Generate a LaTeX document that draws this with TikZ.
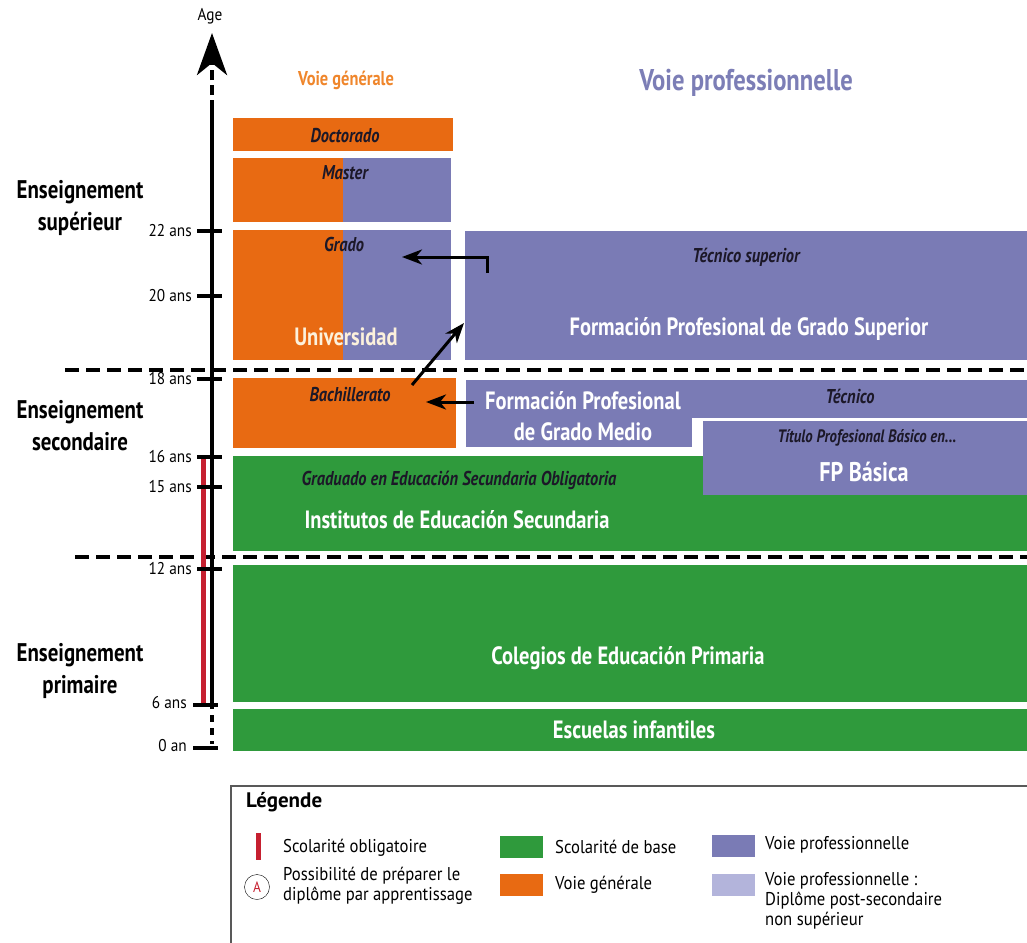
\documentclass[tikz,border=0pt]{standalone}
\usepackage{fontspec}
\setmainfont{PT Sans}
\newfontfamily\narrowfont[FakeStretch=0.9]{PT Sans}
\newfontfamily\condfont[FakeStretch=0.82]{PT Sans}
\usetikzlibrary{arrows.meta,positioning}

\definecolor{voieG}{HTML}{E86A12}
\definecolor{voieP}{HTML}{7A7BB5}
\definecolor{voiePL}{HTML}{B3B4DB}
\definecolor{base}{HTML}{2F9A3C}
\definecolor{oblig}{HTML}{C62030}
\definecolor{labeldark}{HTML}{1C1828}
\definecolor{cream}{HTML}{FCF1DC}
\definecolor{headG}{HTML}{EF862C}
\definecolor{headP}{HTML}{7C7EB6}

\tikzstyle{orangebox} = [rectangle, anchor=north west, inner sep=0pt, outer sep=0pt, fill=voieG]
\tikzstyle{purplebox} = [rectangle, anchor=north west, inner sep=0pt, outer sep=0pt, fill=voieP]
\tikzstyle{greenbox} = [rectangle, anchor=north west, inner sep=0pt, outer sep=0pt, fill=base]
\tikzstyle{boxtitle} = [inner sep=0pt, text=labeldark, font=\condfont\bfseries\itshape\fontsize{20}{22}\selectfont]
\tikzstyle{boxname} = [inner sep=0pt, text=white, align=center, font=\condfont\bfseries\fontsize{25}{31}\selectfont]
\tikzstyle{stage} = [inner sep=0pt, align=center, font=\condfont\bfseries\fontsize{25.5}{32}\selectfont]
\tikzstyle{age} = [inner sep=0pt, anchor=east, font=\narrowfont\fontsize{17}{19}\selectfont]
\tikzstyle{tickline} = [line width=4pt]
\tikzstyle{axisline} = [line width=4.5pt]
\tikzstyle{separator} = [line width=4pt, dash pattern=on 14pt off 7pt]
\tikzstyle{arrow} = [line width=3pt, -{Stealth[length=20pt,width=15pt,inset=6pt]}]
\tikzstyle{swatch} = [rectangle, anchor=north west, inner sep=0pt, minimum width=43pt, minimum height=22pt]
\tikzstyle{legendtext} = [inner sep=0pt, anchor=west, align=left, font=\narrowfont\fontsize{18.5}{20}\selectfont]

\begin{document}
\begin{tikzpicture}[x=1pt, y=-1pt]
        \useasboundingbox (0,0) rectangle (1027,942);

        % headers
        \node (Voie generale) [inner sep=0pt, text=headG, font=\condfont\bfseries\fontsize{20}{22}\selectfont] at (346,80) {Voie générale};
        \node (Voie pro) [inner sep=0pt, text=headP, font=\condfont\bfseries\fontsize{30}{32}\selectfont] at (746,83) {Voie professionnelle};

        % boxes
        \node (Doctorado) [orangebox, minimum width=220pt, minimum height=33pt] at (233,118) {};
        \node (Master G) [orangebox, minimum width=110pt, minimum height=64pt] at (233,158) {};
        \node (Master P) [purplebox, minimum width=108pt, minimum height=64pt] at (343,158) {};
        \node (Grado G) [orangebox, minimum width=110pt, minimum height=130pt] at (233,230) {};
        \node (Grado P) [purplebox, minimum width=108pt, minimum height=130pt] at (343,230) {};
        \node (Grado Superior) [purplebox, minimum width=562pt, minimum height=129pt] at (465,231) {};
        \node (Bachillerato) [orangebox, minimum width=223pt, minimum height=70pt] at (233,378) {};
        \node (Tecnico) [purplebox, minimum width=561pt, minimum height=38pt] at (466,380) {};
        \node (Grado Medio) [purplebox, minimum width=226pt, minimum height=67pt] at (466,380) {};
        \node (Institutos) [greenbox, minimum width=794pt, minimum height=95pt] at (233,456) {};
        \node (FP Basica) [purplebox, minimum width=324pt, minimum height=74pt] at (703,421) {};
        \node (Colegios) [greenbox, minimum width=794pt, minimum height=137pt] at (233,565) {};
        \node (Escuelas) [greenbox, minimum width=794pt, minimum height=42pt] at (233,709) {};

        % texts in the boxes
        \node (Doctorado Title) [boxtitle] at (345,136) {Doctorado};
        \node (Master Title) [boxtitle] at (345,173) {Master};
        \node (Grado Title) [boxtitle] at (344,244) {Grado};
        \node (Universidad) [boxname, text=cream] at (346,337) {Universidad};
        \node (Superior Title) [boxtitle] at (746,257) {Técnico superior};
        \node (Superior Name) [boxname] at (749,329) {Formación Profesional de Grado Superior};
        \node (Bachillerato Title) [boxtitle] at (350,395) {Bachillerato};
        \node (Medio Name) [boxname] at (583,416) {Formación Profesional\\de Grado Medio};
        \node (Tecnico Title) [boxtitle] at (850,396) {Técnico};
        \node (Basica Title) [boxtitle, font=\condfont\bfseries\itshape\fontsize{18}{20}\selectfont] at (867,438) {Título Profesional Básico en...};
        \node (Basica Name) [boxname, font=\condfont\bfseries\fontsize{27}{30}\selectfont] at (864,472) {FP Básica};
        \node (ESO Title) [boxtitle] at (459,480) {Graduado en Educación Secundaria Obligatoria};
        \node (Institutos Name) [boxname] at (457,520) {Institutos de Educación Secundaria};
        \node (Colegios Name) [boxname] at (628,658) {Colegios de Educación Primaria};
        \node (Escuelas Name) [boxname] at (634,730) {Escuelas infantiles};

        % stages
        \node (Superieur) [stage] at (80,208) {Enseignement\\supérieur};
        \node (Secondaire) [stage] at (80,426) {Enseignement\\secondaire};
        \node (Primaire) [stage] at (80,671) {Enseignement\\primaire};
        \draw [separator] (65,370) -- (1027,370);
        \draw [separator] (75,557) -- (1027,557);

        % age axis
        \node (Age) [inner sep=0pt, font=\narrowfont\fontsize{17}{19}\selectfont] at (210,16) {Age};
        \coordinate (Age Tip) at (212,33);
        \coordinate (Axis Top) at (212,110);
        \coordinate (Axis Six) at (212,705);
        \coordinate (Axis Zero) at (212,748);
        \draw [oblig, line width=5pt] (203,457) -- (203,705);
        \draw [axisline] (Axis Six) -- (Axis Top);
        \draw [axisline, dash pattern=on 10pt off 5pt, -{Stealth[length=42pt,width=30pt,inset=12pt]}] (Axis Top) -- (Age Tip);
        \draw [axisline, dash pattern=on 7pt off 6pt] ([yshift=3pt]Axis Six) -- (212,744);

        \node (22 ans) [age] at (192,231) {22 ans};
        \node (20 ans) [age] at (192,296) {20 ans};
        \node (18 ans) [age] at (192,379) {18 ans};
        \node (16 ans) [age] at (192,457) {16 ans};
        \node (15 ans) [age] at (192,487) {15 ans};
        \node (12 ans) [age] at (192,569) {12 ans};
        \node (6 ans) [age] at (187,703) {6 ans};
        \node (0 an) [age] at (187,746) {0 an};
        \draw [tickline] (197,231) -- (222,231);
        \draw [tickline] (197,296) -- (222,296);
        \draw [tickline] (197,379) -- (222,379);
        \draw [tickline] (197,457) -- (222,457);
        \draw [tickline] (197,487) -- (222,487);
        \draw [tickline] (197,569) -- (222,569);
        \draw [tickline] (193,705) -- (218,705);
        \draw [tickline] (193,748) -- (218,748);

        % passerelles
        \coordinate (Superior Out) at (487,273);
        \coordinate (Grado In) at (402,257);
        \coordinate (Bachillerato Out) at (412,385);
        \coordinate (Superior In) at (464,323);
        \coordinate (Medio Out) at (474,402);
        \coordinate (Bachillerato In) at (426,402);
        \draw [arrow] (Superior Out) |- (Grado In);
        \draw [arrow] (Bachillerato Out) -- (Superior In);
        \draw [arrow] (Medio Out) -- (Bachillerato In);

        % legend
        \draw [draw=black!65, line width=1.5pt] (1040,786) -- (231,786) -- (231,950);
        \node (Legende) [inner sep=0pt, anchor=west, font=\bfseries\fontsize{21}{23}\selectfont] at (246,802) {Légende};
        \draw [oblig, line width=5pt] (258,833) -- (258,860);
        \node (Obligatoire) [legendtext] at (283,848) {Scolarité obligatoire};
        \node (Apprentissage A) [circle, draw, thin, minimum size=25pt, inner sep=0pt, text=oblig, font=\narrowfont\fontsize{15}{15}\selectfont] at (257,887) {A};
        \node (Apprentissage) [legendtext] at (283,886) {Possibilité de préparer le\\diplôme par apprentissage};
        \node (Swatch Base) [swatch, fill=base] at (500,836) {};
        \node (Base Text) [legendtext] at (555,847) {Scolarité de base};
        \node (Swatch G) [swatch, fill=voieG] at (500,874) {};
        \node (G Text) [legendtext] at (555,885) {Voie générale};
        \node (Swatch P) [swatch, fill=voieP] at (712,835) {};
        \node (P Text) [legendtext] at (765,845) {Voie professionnelle};
        \node (Swatch PL) [swatch, fill=voiePL] at (712,874) {};
        \node (PL Text) [legendtext, anchor=north west] at (765,872) {Voie professionnelle :\\Diplôme post-secondaire\\non supérieur};
    \end{tikzpicture}
\end{document}
